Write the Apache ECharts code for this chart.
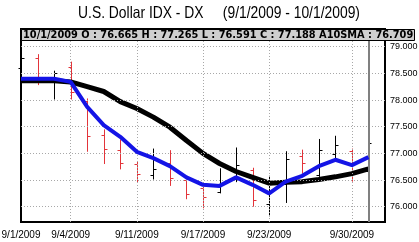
<!DOCTYPE html>
<html><head><meta charset="utf-8">
<script src="https://cdn.jsdelivr.net/npm/echarts@6/dist/echarts.min.js"></script>
<style>html,body{margin:0;padding:0;background:#fff}#c{width:419px;height:242px}</style>
</head><body><div id="c"></div>
<script>
const dates = ['9/1/2009','9/2/2009','9/3/2009','9/4/2009','9/8/2009','9/9/2009','9/10/2009','9/11/2009','9/14/2009','9/15/2009','9/16/2009','9/17/2009','9/18/2009','9/21/2009','9/22/2009','9/23/2009','9/24/2009','9/25/2009','9/28/2009','9/29/2009','9/30/2009','10/1/2009'];
const opens  = [78.60,78.78,78.42,78.62,77.98,77.35,77.06,76.80,76.59,76.81,76.50,76.35,76.28,76.52,76.68,76.05,76.42,76.95,76.59,76.98,77.05,76.665];
const highs  = [78.85,78.86,78.55,78.72,78.03,77.45,77.26,76.84,77.09,77.06,76.51,76.37,76.72,77.11,76.73,76.58,77.04,77.07,77.27,77.33,77.09,77.265];
const lows   = [78.45,78.28,78.01,78.01,77.03,76.80,76.70,76.45,76.51,76.39,76.14,75.97,76.25,76.46,76.00,75.82,76.07,76.62,76.56,76.90,76.47,76.591];
const closes = [78.78,78.33,78.50,78.16,77.33,77.09,76.82,76.61,76.70,76.53,76.24,76.19,76.44,76.78,76.13,76.42,76.90,76.81,77.06,77.15,76.66,77.188];
const fastLine = [78.40,78.40,78.40,78.34,77.87,77.53,77.31,77.03,76.91,76.76,76.55,76.41,76.39,76.55,76.41,76.25,76.47,76.58,76.76,76.88,76.78,76.93];
const sma10    = [78.36,78.36,78.36,78.34,78.25,78.16,77.97,77.84,77.68,77.49,77.24,77.00,76.81,76.66,76.55,76.44,76.46,76.47,76.51,76.56,76.62,76.709];
const yTicks = [76, 76.5, 77, 77.5, 78, 78.5, 79];
const xLabelIdx = [0, 3, 7, 11, 15, 20];
const titleText = 'U.S. Dollar IDX - DX     (9/1/2009 - 10/1/2009)';

const last = dates.length - 1;
const headerText = dates[last] + ' O : ' + opens[last].toFixed(3) + ' H : ' + highs[last].toFixed(3) +
  ' L : ' + lows[last].toFixed(3) + ' C : ' + closes[last].toFixed(3) + ' A10SMA : ' + sma10[last].toFixed(3);

const ohlc = dates.map((d, i) => [i, opens[i], highs[i], lows[i], closes[i]]);
const sans = '"Liberation Sans", Arial, sans-serif';

const chart = echarts.init(document.getElementById('c'), null, {renderer: 'canvas'});
chart.setOption({
  animation: false,
  backgroundColor: '#fff',
  grid: {left: 21, right: 34, top: 29, bottom: 20, outerBoundsMode: 'none', containLabel: false,
         show: true, borderColor: '#000', borderWidth: 2, backgroundColor: 'transparent'},
  xAxis: {
    type: 'value', min: 0, max: 22,
    axisLine: {show: false}, axisTick: {show: false}, splitLine: {show: false},
    axisLabel: {
      customValues: xLabelIdx, formatter: v => dates[v] || '',
      fontFamily: sans, fontSize: 10, color: '#000', margin: 8
    }
  },
  yAxis: {
    type: 'value', position: 'right', min: 75.713, max: 79.332,
    axisLine: {show: false}, axisTick: {show: false}, splitLine: {show: false},
    axisLabel: {
      customValues: yTicks, formatter: v => v.toFixed(3),
      fontFamily: sans, fontSize: 9, color: '#000', margin: 5
    }
  },
  graphic: [
    {type: 'text', x: 219, y: 13, scaleX: 0.84, z: 101,
     style: {text: titleText, fill: '#000', font: '16.5px "Liberation Sans", Arial, sans-serif', align: 'center', verticalAlign: 'middle'}},
    {type: 'rect', shape: {x: 21.5, y: 29.5, width: 393, height: 11}, z: 100,
     style: {fill: '#cfcfcf', stroke: '#000', lineWidth: 1}},
    {type: 'text', x: 23, y: 35.5, z: 101,
     style: {text: headerText, fill: '#000', font: 'bold 9.8px "DejaVu Sans", sans-serif', verticalAlign: 'middle'}}
  ],
  series: [
    {
      type: 'line', data: [], silent: true,
      markLine: {
        silent: true, symbol: 'none', label: {show: false},
        lineStyle: {type: [1, 2], color: '#a8a8a8', width: 1},
        data: yTicks.map(v => ({yAxis: v})).concat(xLabelIdx.slice(1).map(i => ({xAxis: i})))
      }
    },
    {
      type: 'custom', data: ohlc, z: 3,
      renderItem: function (params, api) {
        const x = api.coord([api.value(0), 0])[0];
        const o = api.coord([0, api.value(1)])[1];
        const h = api.coord([0, api.value(2)])[1];
        const l = api.coord([0, api.value(3)])[1];
        const c = api.coord([0, api.value(4)])[1];
        const color = api.value(4) >= api.value(1) ? '#000' : '#e3343a';
        const xs = Math.round(x) + 0.5;
        const st = {stroke: color, lineWidth: 1};
        return {type: 'group', children: [
          {type: 'line', shape: {x1: xs, y1: h, x2: xs, y2: l}, style: st},
          {type: 'line', shape: {x1: xs - 3, y1: Math.round(o) + 0.5, x2: xs, y2: Math.round(o) + 0.5}, style: st},
          {type: 'line', shape: {x1: xs, y1: Math.round(c) + 0.5, x2: xs + 3, y2: Math.round(c) + 0.5}, style: st}
        ]};
      }
    },
    {
      type: 'line', data: sma10.map((v, i) => [i, v]), symbol: 'none', z: 4,
      lineStyle: {color: '#000', width: 5}
    },
    {
      type: 'line', data: fastLine.map((v, i) => [i, v]), symbol: 'none', z: 5,
      lineStyle: {color: '#1414e6', width: 4},
      markLine: {
        silent: true, symbol: 'none', label: {show: false},
        lineStyle: {type: 'solid', color: '#808080', width: 2},
        data: [{xAxis: last}]
      }
    }
  ]
});
</script></body></html>
